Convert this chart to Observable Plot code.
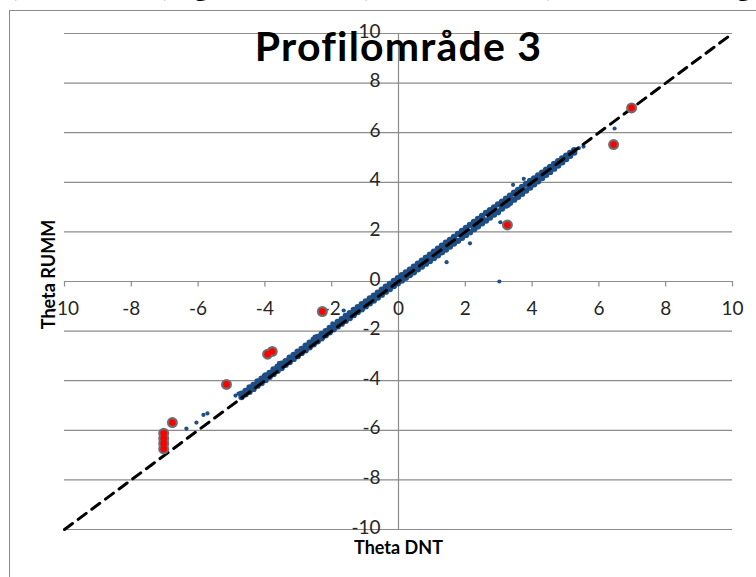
<!DOCTYPE html>
<html>
<head>
<meta charset="utf-8">
<script src="https://cdn.jsdelivr.net/npm/d3@7"></script>
<script src="https://cdn.jsdelivr.net/npm/@observablehq/plot@0.6"></script>
<style>
  html, body { margin: 0; padding: 0; background: #fff; overflow: hidden; }
  #wrap { position: relative; width: 756px; height: 577px; }
  #frame { position: absolute; left: 9px; top: 10px; width: 800px; height: 600px;
           border-left: 1.5px solid #8a8a8a; border-top: 1.5px solid #8a8a8a; }
  #chart { position: absolute; left: 0; top: 0; }
</style>
</head>
<body>
<div id="wrap"><div id="frame"></div><div id="chart"></div></div>
<script>
// ---- data ----
const topTitle = "(Theta DNT) og RUMM-tal (Theta RUMM) ved sammenligning";
const chartTitle = "Profilområde 3";
const xTitle = "Theta DNT";
const yTitle = "Theta RUMM";
const xTicks = [-10, -8, -6, -4, -2, 0, 2, 4, 6, 8, 10];
const yTicks = [-10, -8, -6, -4, -2, 0, 2, 4, 6, 8, 10];
const diagonal = [-10, 10];

// dense band of blue points (Theta DNT vs Theta RUMM)
const bandX = [-4.70,-4.58,-4.46,-4.34,-4.22,-4.10,-3.98,-3.86,-3.74,-3.62,-3.50,-3.38,-3.26,-3.14,-3.02,-2.90,-2.78,-2.66,-2.54,-2.42,-2.30,-2.18,-2.06,-1.94,-1.82,-1.70,-1.58,-1.46,-1.34,-1.22,-1.10,-0.98,-0.86,-0.74,-0.62,-0.50,-0.38,-0.26,-0.14,-0.02,0.10,0.22,0.34,0.46,0.58,0.70,0.82,0.94,1.06,1.18,1.30,1.42,1.54,1.66,1.78,1.90,2.02,2.14,2.26,2.38,2.50,2.62,2.74,2.86,2.98,3.10,3.22,3.34,3.46,3.58,3.70,3.82,3.94,4.06,4.18,4.30,4.42,4.54,4.66,4.78,4.90,5.02,5.14,5.26];
const bandYUpper = [-4.52,-4.41,-4.27,-4.17,-4.03,-3.92,-3.79,-3.69,-3.55,-3.44,-3.31,-3.21,-3.07,-2.96,-2.83,-2.72,-2.59,-2.47,-2.35,-2.24,-2.11,-2.00,-1.87,-1.76,-1.63,-1.52,-1.39,-1.28,-1.15,-1.04,-0.92,-0.80,-0.68,-0.57,-0.45,-0.33,-0.21,-0.10,0.02,0.13,0.25,0.36,0.48,0.60,0.72,0.84,0.96,1.08,1.20,1.32,1.44,1.56,1.68,1.80,1.92,2.04,2.16,2.28,2.40,2.52,2.64,2.76,2.87,2.99,3.11,3.22,3.34,3.46,3.58,3.69,3.81,3.93,4.05,4.16,4.28,4.39,4.51,4.62,4.74,4.85,4.96,5.07,5.18,5.29];
const bandYLower = [-4.66,-4.55,-4.45,-4.33,-4.20,-4.09,-3.97,-3.84,-3.73,-3.60,-3.49,-3.36,-3.25,-3.12,-3.01,-2.88,-2.77,-2.65,-2.53,-2.41,-2.29,-2.17,-2.05,-1.93,-1.81,-1.70,-1.58,-1.47,-1.35,-1.23,-1.12,-1.00,-0.88,-0.77,-0.65,-0.53,-0.41,-0.30,-0.18,-0.07,0.04,0.15,0.26,0.37,0.49,0.60,0.72,0.83,0.95,1.06,1.18,1.29,1.41,1.53,1.64,1.76,1.88,1.99,2.11,2.23,2.35,2.46,2.58,2.70,2.82,2.94,3.06,3.18,3.30,3.42,3.54,3.67,3.79,3.92,4.04,4.17,4.30,4.42,4.55,4.68,4.81,4.94,5.07,5.20];

// scattered blue points
const scatterX = [3.02, 6.47, 5.54, 5.40, 3.75, 3.43, 3.05, 2.14, 1.44, 3.30, 3.50, 3.00, 2.31, 4.30, -1.64, -1.98, -2.51, -3.58, -4.03, -4.79, -4.70, -4.88, -5.72, -5.84, -6.05, -6.35];
const scatterY = [0.00, 6.17, 5.44, 5.38, 4.14, 3.90, 2.39, 1.54, 0.78, 3.06, 3.29, 2.75, 2.12, 4.18, -1.17, -1.69, -2.22, -3.29, -3.79, -4.52, -4.55, -4.60, -5.32, -5.38, -5.69, -5.93];

// highlighted (red) points
const outlierX = [6.98, 6.44, 3.26, -2.28, -3.92, -3.78, -5.15, -6.77, -7.03, -7.03, -7.03, -7.03];
const outlierY = [7.00, 5.52, 2.28, -1.21, -2.93, -2.82, -4.15, -5.69, -6.12, -6.33, -6.53, -6.75];

// ---- build tables ----
const band = bandX.flatMap((x, i) => [{x, y: bandYUpper[i]}, {x, y: bandYLower[i]}]);
const scatter = scatterX.map((x, i) => ({x, y: scatterY[i]}));
const outliers = outlierX.map((x, i) => ({x, y: outlierY[i]}));
const diag = diagonal.map(v => ({x: v, y: v}));

const FONT = "Lato, 'Open Sans', sans-serif";
const BLUE = "#1f4e85";
const GRID = "#8c8c8c";
const INK = "#262626";

const chart = Plot.plot({
  width: 756,
  height: 577,
  marginLeft: 64,
  marginRight: 24,
  marginTop: 33,
  marginBottom: 48,
  style: {fontFamily: FONT, background: "transparent", overflow: "visible"},
  x: {domain: [-10, 10], axis: null},
  y: {domain: [-10, 10], axis: null},
  marks: [
    Plot.ruleY(yTicks, {stroke: GRID, strokeWidth: 1.2}),
    Plot.ruleX([0], {stroke: GRID, strokeWidth: 1.2}),
    Plot.ruleX(xTicks, {y1: 0, y2: -0.22, stroke: GRID, strokeWidth: 1.2}),
    Plot.text(yTicks, {x: 0, y: d => d, text: d => String(d), textAnchor: "end", lineAnchor: "middle", dx: -18, dy: -2, fontSize: 19, fill: INK}),
    Plot.text(xTicks, {x: d => d, y: 0, text: d => String(d), textAnchor: "middle", lineAnchor: "middle", dy: 27, fontSize: 19, fill: INK}),
    Plot.dot(band, {x: "x", y: "y", r: 3.2, fill: BLUE, stroke: "none"}),
    Plot.dot(scatter, {x: "x", y: "y", r: 2.1, fill: BLUE, stroke: "none"}),
    Plot.line(diag, {x: "x", y: "y", stroke: "#000", strokeWidth: 3, strokeDasharray: "10,7"}),
    Plot.dot(outliers, {x: "x", y: "y", r: 5.5, fill: "#6e6e6e", stroke: "none"}),
    Plot.dot(outliers, {x: "x", y: "y", r: 3.3, fill: "#ff0000", stroke: "none"}),
    Plot.text([chartTitle], {frameAnchor: "top", text: d => d, textAnchor: "middle", lineAnchor: "bottom", dy: 27, fontSize: 41, fontWeight: "bold", fill: "#000"}),
    Plot.text([xTitle], {frameAnchor: "bottom", text: d => d, textAnchor: "middle", lineAnchor: "bottom", dy: 24, fontSize: 18, fontWeight: "bold", fill: "#000"}),
    Plot.text([yTitle], {frameAnchor: "left", text: d => d, textAnchor: "middle", rotate: -90, lineAnchor: "bottom", dx: -10, dy: -7, fontSize: 18, fontWeight: "bold", fill: "#000"}),
    Plot.text([topTitle], {frameAnchor: "top-left", text: d => d, textAnchor: "start", lineAnchor: "bottom", dx: -54, dy: -38, fontSize: 29, fontWeight: "bold", fill: "#000"})
  ]
});
d3.select(chart).selectAll("text").filter(function () { return this.textContent === chartTitle; })
  .style("letter-spacing", "1.2px");
document.getElementById("chart").appendChild(chart);
</script>
</body>
</html>
